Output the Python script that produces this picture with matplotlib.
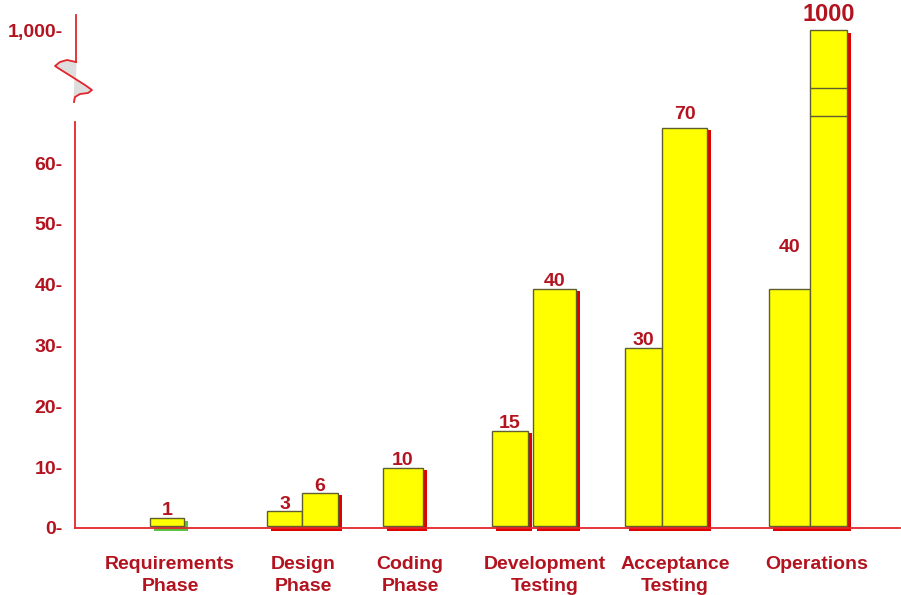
import numpy as np
import matplotlib.pyplot as plt
from matplotlib import transforms

plt.rcParams['font.family'] = ['Liberation Sans', 'DejaVu Sans']

# data
phases = ['Requirements\nPhase', 'Design\nPhase', 'Coding\nPhase',
          'Development\nTesting', 'Acceptance\nTesting', 'Operations']
bar_tops = [[1.6], [2.8, 5.8], [9.9], [16, 39.3], [29.6, 65.8], [39.3, 1000]]
bar_labels = [['1'], ['3', '6'], ['10'], ['15', '40'], ['30', '70'], ['40', '1000']]
y_ticks = [0, 10, 20, 30, 40, 50, 60, 1000]
y_tick_labels = ['0-', '10-', '20-', '30-', '40-', '50-', '60-', '1,000-']

# layout (x in pixel-like units)
group_centers = [167, 302.5, 403, 534, 666, 808]
bar_widths = [[34], [35, 36], [40], [36, 43], [37, 45], [41, 37]]
bar_gaps = [0, 0, 0, 5, 0, 0]
label_pads = [[3], [1.5, 1.5], [3], [3, 3], [3, 9], [37, 9]]
label_x = [170, 303, 410, 545, 675, 817]

TXT = '#b3131f'
AXC = '#e3262c'
YEL = '#ffff00'
EDGE = '#5e5e30'

# broken axis: linear to 70, then squeezed
T_BREAK = 70
T_1000 = 81.8
T_TOP = 84.33
k = (T_1000 - T_BREAK) / (1000 - T_BREAK)


def fwd(v):
    v = np.asarray(v, dtype=float)
    return np.where(v <= T_BREAK, v, T_BREAK + (v - T_BREAK) * k)


def inv(t):
    t = np.asarray(t, dtype=float)
    return np.where(t <= T_BREAK, t, T_BREAK + (t - T_BREAK) / k)


fig = plt.figure(figsize=(9.01, 5.95), dpi=100)
ax = fig.add_axes([75 / 901, 67 / 595, (900 - 75) / 901, 513 / 595])
ax.set_yscale('function', functions=(fwd, inv))
ax.set_xlim(75, 900)
ax.set_ylim(0, float(inv(T_TOP)))

base = 0.35
for i, tops in enumerate(bar_tops):
    ws = bar_widths[i]
    total = sum(ws) + bar_gaps[i] * (len(ws) - 1)
    left = group_centers[i] - total / 2
    for j, top in enumerate(tops):
        w = ws[j]
        shadow = '#5cc040' if i == 0 else '#e00000'
        s_top = float(inv(fwd(top) - 0.4))
        ax.bar(left + 3.5, s_top + 0.45, width=w, bottom=-0.45, align='edge',
               color=shadow, lw=0, zorder=2, clip_on=False)
        ax.bar(left, top - base, width=w, bottom=base, align='edge',
               color=YEL, edgecolor=EDGE, lw=1, zorder=3)
        if top > T_BREAK:
            # break marks across the tall bar
            for t in [67.73, 72.33]:
                ax.hlines(float(inv(t)), left, left + w, color=EDGE, lw=1, zorder=4)
        fs = 17 if top > T_BREAK else 14
        ax.annotate(bar_labels[i][j], (left + w / 2, top),
                    xytext=(0, label_pads[i][j] * 0.72), textcoords='offset points',
                    ha='center', va='baseline', fontsize=fs, fontweight='bold',
                    color=TXT, zorder=5)
        left += w + bar_gaps[i]

for s in ax.spines.values():
    s.set_visible(False)

ax.set_yticks(y_ticks, y_tick_labels)
ax.tick_params(axis='y', length=0, pad=9, labelsize=14, labelcolor=TXT)
ax.set_xticks(label_x, phases)
ax.tick_params(axis='x', length=0, pad=20, labelsize=14, labelcolor=TXT)
for t in ax.get_yticklabels() + ax.get_xticklabels():
    t.set_fontweight('bold')
for t in ax.get_xticklabels():
    t.set_linespacing(1.4)

# axis lines drawn by hand
ax.plot([75, 900], [0, 0], color=AXC, lw=1.3, clip_on=False, zorder=6)
blend = transforms.blended_transform_factory(ax.transData, ax.transAxes)


def fy(py):
    return (528 - np.asarray(py, dtype=float)) / 513


ax.plot([75, 75], fy([528, 122]), color=AXC, lw=1.3, transform=blend, clip_on=False)
ax.plot([76, 76], fy([15, 62]), color=AXC, lw=1.3, transform=blend, clip_on=False)
sq_x = [76, 67, 60, 55, 58, 85, 92, 88, 80, 75, 74]
sq_y = [62, 60, 62, 66, 68, 85, 90, 93, 94, 97, 102]
ax.fill(sq_x, fy(sq_y), color='#dedede', transform=blend, clip_on=False, zorder=1)
ax.plot(sq_x, fy(sq_y), color=AXC, lw=1.3, transform=blend, clip_on=False)

fig.savefig('out.png', dpi=100)
